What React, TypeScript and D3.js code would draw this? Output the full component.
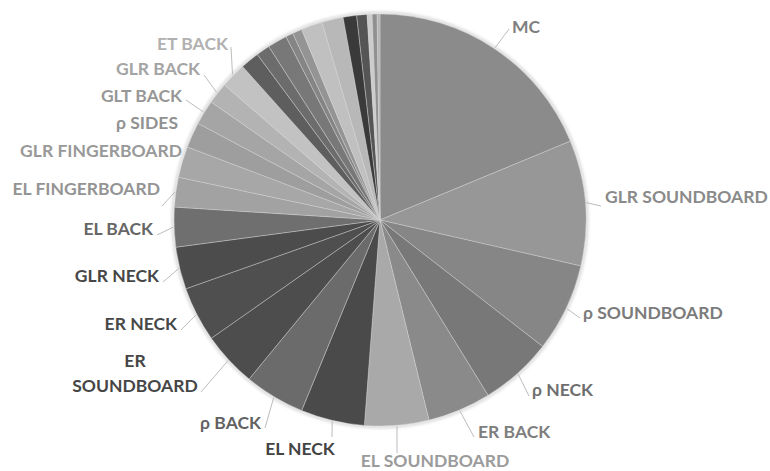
import React, { useEffect, useRef } from 'react';
import * as d3 from 'd3';

// slice names, clockwise from 12 o'clock ('' = unlabeled sliver)
const categories = [
  'MC', 'GLR SOUNDBOARD', 'ρ SOUNDBOARD', 'ρ NECK', 'ER BACK', 'EL SOUNDBOARD',
  'EL NECK', 'ρ BACK', 'ER SOUNDBOARD', 'ER NECK', 'GLR NECK', 'EL BACK',
  'EL FINGERBOARD', 'GLR FINGERBOARD', 'ρ SIDES', 'GLT BACK', 'GLR BACK', 'ET BACK',
  '', '', '', '', '', '', '', '', '', '', '', ''
];

// share of the whole, in %
const values = [
  18.75, 9.83, 6.94, 5.69, 4.97, 5.03,
  5.0, 4.75, 4.31, 4.31, 3.31, 3.11,
  2.33, 2.44, 2.0, 1.94, 1.67, 2.0,
  1.47, 1.08, 1.53, 0.58, 0.75, 1.67, 1.67, 1.06, 0.81, 0.39, 0.39, 0.22
];

const grays = [
  '#8b8b8b', '#979797', '#868686', '#787878', '#8a8a8a', '#a9a9a9',
  '#4a4a4a', '#6b6b6b', '#4d4d4d', '#4f4f4f', '#4c4c4c', '#6f6f6f',
  '#a2a2a2', '#a7a7a7', '#9e9e9e', '#a5a5a5', '#b3b3b3', '#c2c2c2',
  '#5e5e5e', '#6c6c6c', '#787878', '#858585', '#949494', '#c0c0c0', '#b8b8b8',
  '#3a3a3a', '#555555', '#cccccc', '#909090', '#b5b5b5'
];

// where Excel put each label: text anchor point + end of the leader line
type LabelPos = { x: number; y: number; anchor: string; lines?: string[]; end?: [number, number] };
const labelLayout: Record<string, LabelPos> = {
  'MC': { x: 512, y: 33, anchor: 'start', end: [509, 29] },
  'GLR SOUNDBOARD': { x: 605, y: 203, anchor: 'start', end: [601, 206] },
  'ρ SOUNDBOARD': { x: 583, y: 319, anchor: 'start', end: [580, 318] },
  'ρ NECK': { x: 532, y: 396, anchor: 'start', end: [529, 396] },
  'ER BACK': { x: 478, y: 438, anchor: 'start', end: [474, 437] },
  'EL SOUNDBOARD': { x: 435, y: 467, anchor: 'middle', end: [397, 453] },
  'EL NECK': { x: 300, y: 455, anchor: 'middle', end: [332, 437] },
  'ρ BACK': { x: 261, y: 429, anchor: 'end', end: [265, 428] },
  'ER SOUNDBOARD': { x: 135, y: 392, anchor: 'middle', lines: ['ER', 'SOUNDBOARD'], end: [201, 392] },
  'ER NECK': { x: 177, y: 330, anchor: 'end', end: [181, 330] },
  'GLR NECK': { x: 159, y: 282, anchor: 'end', end: [163, 282] },
  'EL BACK': { x: 153, y: 235, anchor: 'end', end: [157, 235] },
  'EL FINGERBOARD': { x: 160, y: 195, anchor: 'end', end: [162, 206] },
  'GLR FINGERBOARD': { x: 182, y: 157, anchor: 'end' },
  'ρ SIDES': { x: 178, y: 129, anchor: 'end' },
  'GLT BACK': { x: 182, y: 102, anchor: 'end', end: [186, 100] },
  'GLR BACK': { x: 200, y: 75, anchor: 'end', end: [204, 75] },
  'ET BACK': { x: 157, y: 50, anchor: 'start', end: [231, 47] },
};

const W = 770;
const H = 471;

const App: React.FC = () => {
  const svgRef = useRef<SVGSVGElement>(null);

  useEffect(() => {
    if (!svgRef.current) return;
    const svg = d3.select(svgRef.current);
    svg.selectAll('*').remove();

    const cx = 380;
    const cy = 220;
    const r = 206;

    const pie = d3.pie<number>().sort(null).value(d => d);
    const arcs = pie(values);
    const arc = d3.arc<d3.PieArcDatum<number>>().innerRadius(0).outerRadius(r);

    // soft halo around the pie (the source is a photo/scan)
    const defs = svg.append('defs');
    defs.append('filter').attr('id', 'blur')
      .append('feGaussianBlur').attr('stdDeviation', 1.5);
    svg.append('circle')
      .attr('cx', cx).attr('cy', cy).attr('r', r + 1)
      .attr('fill', 'none').attr('stroke', '#d8d8d8').attr('stroke-width', 3)
      .attr('filter', 'url(#blur)');

    const g = svg.append('g').attr('transform', `translate(${cx},${cy})`);
    g.selectAll('path')
      .data(arcs)
      .join('path')
      .attr('d', arc)
      .attr('fill', (_, i) => grays[i])
      .attr('stroke', '#d6d6d6')
      .attr('stroke-width', 0.4);

    // labels + leader lines
    arcs.forEach((a, i) => {
      const name = categories[i];
      const lay = labelLayout[name];
      if (!name || !lay) return;
      const mid = (a.startAngle + a.endAngle) / 2;
      const color = d3.rgb(grays[i]).darker(0.25).toString();

      if (lay.end) {
        const sx = cx + (r + 1) * Math.sin(mid);
        const sy = cy - (r + 1) * Math.cos(mid);
        svg.append('path')
          .attr('d', d3.line()([[sx, sy], lay.end]))
          .attr('fill', 'none')
          .attr('stroke', '#bdbdbd')
          .attr('stroke-width', 1);
      }

      const lines = lay.lines || [name];
      const t = svg.append('text')
        .attr('x', lay.x)
        .attr('y', lay.y - (lines.length - 1) * 25)
        .attr('text-anchor', lay.anchor)
        .style('font-family', 'Lato, "Open Sans", sans-serif')
        .style('font-weight', 700)
        .style('font-size', '17.5px')
        .style('fill', color);
      lines.forEach((ln, j) => {
        t.append('tspan')
          .attr('x', lay.x)
          .attr('dy', j === 0 ? 0 : 25)
          .text(ln);
      });
    });
  }, []);

  return (
    <div style={{ position: 'fixed', left: 0, top: 0, width: W, height: H, background: '#fff' }}>
      <svg ref={svgRef} width={W} height={H} viewBox={`0 0 ${W} ${H}`} />
    </div>
  );
};

export default App;
